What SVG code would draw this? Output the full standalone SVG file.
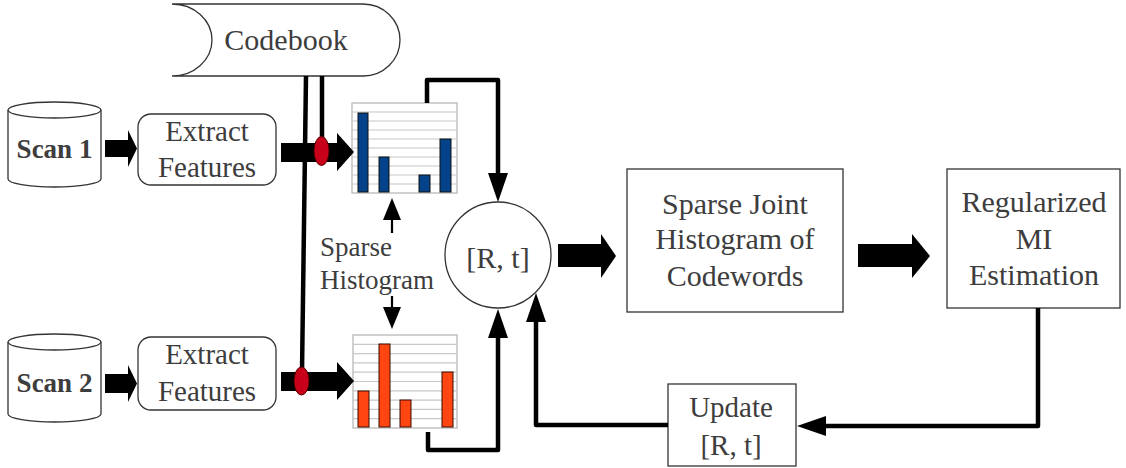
<svg xmlns="http://www.w3.org/2000/svg" width="1126" height="468" viewBox="0 0 1126 468">
<style>
.t{font-family:"Liberation Serif","Times New Roman",serif;fill:#3d3d3d;text-anchor:middle}
.b{font-weight:bold}
.shape{fill:#fff;stroke:#333;stroke-width:1.3}
.grid{stroke:#c8c8c8;stroke-width:1.2}
.frame{fill:#fff;stroke:#b8b8b8;stroke-width:1.3}
.blue{fill:#04428a;stroke:#111;stroke-width:1}
.red{fill:#ff4510;stroke:#3a0a00;stroke-width:1}
.thick{fill:none;stroke:#000;stroke-width:4.5;stroke-linejoin:round}
.thin{fill:none;stroke:#000;stroke-width:2.2}
.blk{fill:#000}
.dot{fill:#c8001a;stroke:#500;stroke-width:1}
</style>
<defs>
<marker id="ah" markerUnits="userSpaceOnUse" markerWidth="30" markerHeight="20" viewBox="0 0 30 20" refX="0" refY="10" orient="auto">
<path d="M0,0 L29,10 L0,20 z" fill="#000"/>
</marker>
<marker id="as" markerUnits="userSpaceOnUse" markerWidth="22" markerHeight="18" viewBox="0 0 22 18" refX="0" refY="9" orient="auto">
<path d="M0,0 L22,9 L0,18 z" fill="#000"/>
</marker>
</defs>

<g id="codebook">
<path class="shape" d="M172,4 H363 A37,36 0 0 1 363,76 H172 A40,36 0 0 0 172,4 z"/>
<text class="t" x="286" y="50" font-size="30">Codebook</text>
</g>

<g id="scan1">
<path class="shape" d="M8,110 V179 A46.5,8 0 0 0 101,179 V110"/>
<ellipse class="shape" cx="54.5" cy="110" rx="46.5" ry="8"/>
<text class="t b" x="54.5" y="158" font-size="27">Scan 1</text>
</g>
<g id="scan2">
<path class="shape" d="M8,342 V414 A46.5,8 0 0 0 101,414 V342"/>
<ellipse class="shape" cx="54.5" cy="342" rx="46.5" ry="8"/>
<text class="t b" x="54.5" y="392" font-size="27">Scan 2</text>
</g>

<g id="extract1">
<rect class="shape" x="138" y="114" width="138" height="71" rx="13"/>
<text class="t" x="207" y="141" font-size="29">Extract</text>
<text class="t" x="207" y="177" font-size="29">Features</text>
</g>
<g id="extract2">
<rect class="shape" x="138" y="337" width="138" height="73" rx="13"/>
<text class="t" x="207" y="364" font-size="29">Extract</text>
<text class="t" x="207" y="401" font-size="29">Features</text>
</g>

<g id="hist1">
<rect class="frame" x="352" y="103" width="105" height="90"/>
<path class="grid" d="M352,112H457M352,121H457M352,130H457M352,139H457M352,148H457M352,157H457M352,166H457M352,175H457M352,184H457"/>
<rect class="blue" x="358" y="113" width="10" height="79"/>
<rect class="blue" x="379" y="157" width="10" height="35"/>
<rect class="blue" x="419" y="175" width="11" height="17"/>
<rect class="blue" x="440" y="139" width="11" height="53"/>
</g>
<g id="hist2">
<rect class="frame" x="353" y="335" width="104" height="93"/>
<path class="grid" d="M353,344.3H457M353,353.6H457M353,362.9H457M353,372.2H457M353,381.5H457M353,390.8H457M353,400.1H457M353,409.4H457M353,418.7H457"/>
<rect class="red" x="358" y="391" width="11" height="36"/>
<rect class="red" x="379" y="344" width="11" height="83"/>
<rect class="red" x="400" y="400" width="11" height="27"/>
<rect class="red" x="442" y="372" width="11" height="55"/>
</g>

<g id="sparse-histogram-label">
<text class="t" x="320" y="256" font-size="27" text-anchor="start" style="text-anchor:start">Sparse</text>
<text class="t" x="320" y="289" font-size="27" text-anchor="start" style="text-anchor:start">Histogram</text>
</g>

<g id="rt">
<circle class="shape" cx="498" cy="255" r="53"/>
<text class="t" x="498" y="268" font-size="30">[R, t]</text>
</g>

<g id="joint">
<rect class="shape" x="627" y="169" width="216" height="143"/>
<text class="t" x="735" y="214" font-size="30">Sparse Joint</text>
<text class="t" x="735" y="249" font-size="30">Histogram of</text>
<text class="t" x="735" y="286" font-size="30">Codewords</text>
</g>

<g id="mi">
<rect class="shape" x="947" y="169" width="173" height="139"/>
<text class="t" x="1034" y="212" font-size="30">Regularized</text>
<text class="t" x="1034" y="249" font-size="30">MI</text>
<text class="t" x="1034" y="285" font-size="30">Estimation</text>
</g>

<g id="update">
<rect class="shape" x="668" y="384" width="128" height="82"/>
<text class="t" x="731" y="417" font-size="29">Update</text>
<text class="t" x="731" y="455" font-size="29">[R, t]</text>
</g>

<g id="connectors">
<path class="blk" d="M105,140 H128 V130 L137,148.5 L128,167 V157 H105 z"/>
<path class="blk" d="M105,374 H128 V365 L137,383.5 L128,402 V393 H105 z"/>
<path class="blk" d="M281,143 H337 V133 L354,152 L337,171 V162 H281 z"/>
<path class="blk" d="M281,372 H337 V362 L354,381 L337,400 V391 H281 z"/>
<path class="blk" d="M558,244 H601 V234 L616,256 L601,278 V267 H558 z"/>
<path class="blk" d="M858,244 H912 V234 L930,256 L912,278 V267 H858 z"/>
<path class="thick" d="M306,76 L302,372"/>
<path class="thick" d="M322,76 V140"/>
<path class="thick" d="M427,103 V80 H498 V173" marker-end="url(#ah)"/>
<path class="thick" d="M428,432 V450 H498 V338" marker-end="url(#ah)"/>
<path class="thick" d="M1038,308 V426 H826" marker-end="url(#ah)"/>
<path class="thick" d="M668,425 H536 V322" marker-end="url(#ah)"/>
<path class="thin" d="M392,233 V220" marker-end="url(#as)"/>
<path class="thin" d="M392,296 V307" marker-end="url(#as)"/>
<ellipse class="dot" cx="321.5" cy="151" rx="7.5" ry="14.5"/>
<ellipse class="dot" cx="301.5" cy="381" rx="7.5" ry="14"/>
</g>
</svg>
